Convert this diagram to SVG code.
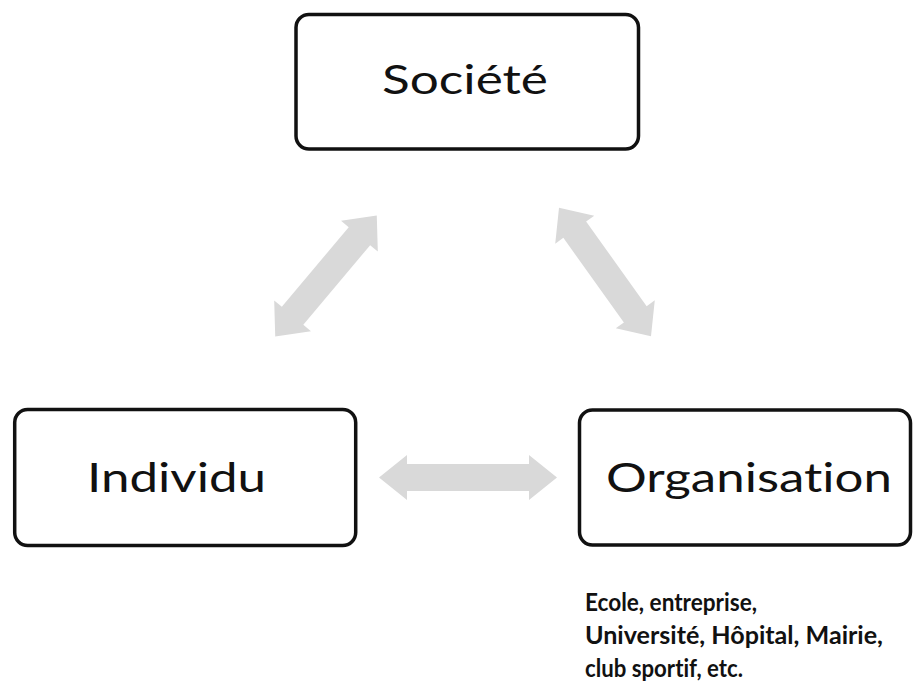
<svg xmlns="http://www.w3.org/2000/svg" width="913" height="690" viewBox="0 0 913 690">
  <style>
    .box { fill: #ffffff; stroke: #111111; stroke-width: 3.5; }
    .label { font-family: Lato, "Open Sans", "Liberation Sans", sans-serif; font-size: 41px; fill: #111111; font-variant-ligatures: none; }
    .note { font-family: Lato, "Open Sans", "Liberation Sans", sans-serif; font-size: 25px; font-weight: 700; fill: #111111; font-variant-ligatures: none; }
    .arrow { fill: #d9d9d9; }
  </style>
  <defs>
    <!-- double-headed block arrow, 158 long, centred on the origin -->
    <path id="dbl" d="M-79,0 L-52,-24 L-52,-14 L52,-14 L52,-24 L79,0 L52,24 L52,14 L-52,14 L-52,24 Z"/>
  </defs>
  <rect width="913" height="690" fill="#ffffff"/>

  <g id="connectors">
    <use href="#dbl" class="arrow" transform="translate(326,276) rotate(-50)"/>
    <use href="#dbl" class="arrow" transform="translate(605,272) rotate(54.4)"/>
    <path class="arrow" d="M379,477.5 L407,455 L407,464 L529,464 L529,455 L557,477.5 L529,500 L529,491 L407,491 L407,500 Z"/>
  </g>

  <g id="societe">
    <rect class="box" x="296" y="14.5" width="342.5" height="134.5" rx="13"/>
    <text class="label" x="382" y="94" textLength="166" lengthAdjust="spacingAndGlyphs">Société</text>
  </g>

  <g id="individu">
    <rect class="box" x="14.7" y="409.5" width="341" height="136" rx="13"/>
    <text class="label" x="87" y="492" textLength="179" lengthAdjust="spacingAndGlyphs">Individu</text>
  </g>

  <g id="organisation">
    <rect class="box" x="579.5" y="410" width="331" height="135" rx="13"/>
    <text class="label" x="606" y="492" textLength="286" lengthAdjust="spacingAndGlyphs">Organisation</text>
  </g>

  <g id="examples">
    <text class="note" x="585" y="611" textLength="172" lengthAdjust="spacingAndGlyphs">Ecole, entreprise,</text>
    <text class="note" x="585" y="644" textLength="298" lengthAdjust="spacingAndGlyphs">Université, Hôpital, Mairie,</text>
    <text class="note" x="585" y="677" textLength="158" lengthAdjust="spacingAndGlyphs">club sportif, etc.</text>
  </g>
</svg>
